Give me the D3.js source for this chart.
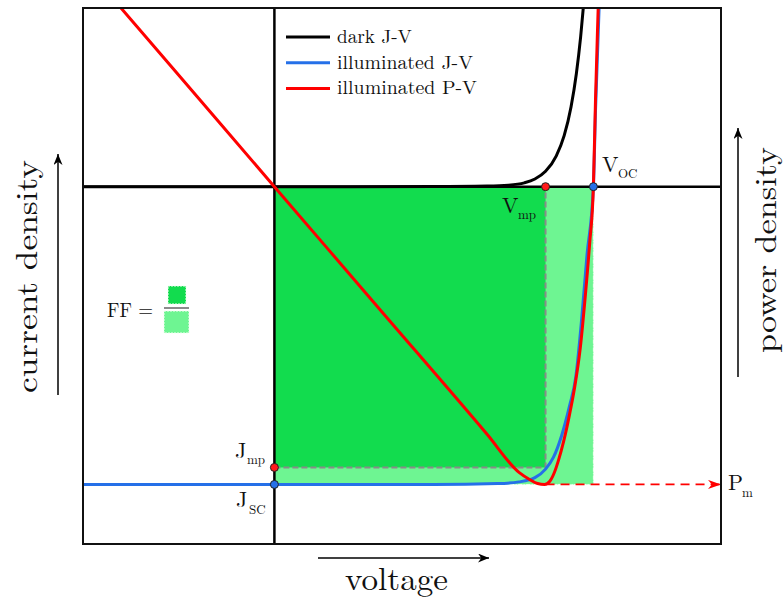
<!DOCTYPE html>
<html>
<head>
<meta charset="utf-8">
<script src="https://cdn.jsdelivr.net/npm/d3@7"></script>
<style>
  html, body { margin: 0; padding: 0; background: #fff; }
  svg { display: block; }
</style>
</head>
<body>
<svg id="chart" width="784" height="600"></svg>
<script>
// Dark J-V curve (voltage, current density)
const darkV = [-0.36, 0, 0.3, 0.4, 0.44, 0.47, 0.49, 0.51, 0.53, 0.545, 0.558, 0.568, 0.576, 0.583];
const darkJ = [0, 0, 0.02, 0.08, 0.18, 0.45, 0.9, 1.8, 3.6, 6.0, 9.4, 13.3, 17.6, 22.4];

// Illuminated J-V curve
const lightV = [-0.36, 0.3, 0.42, 0.46, 0.49, 0.51, 0.525, 0.54, 0.555, 0.567, 0.578, 0.588, 0.6, 0.604, 0.611, 0.614];
const lightJ = [-35, -35, -34.9, -34.7, -34.2, -33.2, -31.8, -29.3, -25.8, -22.3, -15.5, -8, 0, 9, 21.5, 26];

// Illuminated P-V curve
const powerV = [-0.36, -0.2, 0, 0.2, 0.4, 0.46, 0.48, 0.495, 0.508, 0.518, 0.526, 0.534, 0.544, 0.555, 0.565, 0.575, 0.585, 0.593, 0.6, 0.604, 0.609, 0.613];
const powerP = [12.6, 7.0, 0, -7.0, -14.0, -16.15, -16.55, -16.78, -16.83, -16.65, -16.2, -15.5, -14.4, -12.9, -11.3, -9.2, -6.1, -3.2, 0, 5, 10.1, 14];

// Characteristic points
const Voc = 0.6, Vmp = 0.51, Jsc = -35, Jmp = -33, Pm = -16.83;

const legendLabels = ["dark J-V", "illuminated J-V", "illuminated P-V"];
const legendColors = ["#000000", "#2570e8", "#ff0000"];

const FONT = "Latin Modern Roman";

const svg = d3.select("#chart");
const frame = {left: 83, right: 721, top: 8, bottom: 544};

const x = d3.scaleLinear().domain([-0.36, 0.84]).range([frame.left, frame.right]);
const yJ = d3.scaleLinear().domain([-42, 21]).range([frame.bottom, frame.top]);
const yP = d3.scaleLinear().domain([-20.2, 10.1]).range([frame.bottom, frame.top]);

const defs = svg.append("defs");
defs.append("clipPath").attr("id", "plot-clip")
  .append("rect")
  .attr("x", frame.left).attr("y", frame.top)
  .attr("width", frame.right - frame.left).attr("height", frame.bottom - frame.top);

function marker(id, color, len, half) {
  defs.append("marker")
    .attr("id", id)
    .attr("viewBox", `${-len} ${-half} ${len} ${half * 2}`)
    .attr("refX", 0).attr("refY", 0)
    .attr("markerWidth", len).attr("markerHeight", half * 2)
    .attr("markerUnits", "userSpaceOnUse")
    .attr("orient", "auto")
    .append("path")
    .attr("d", `M0,0 L${-len},${-half} L${-len * 0.7},0 L${-len},${half} Z`)
    .attr("fill", color);
}
marker("arrow-black", "#000", 11, 4.5);
marker("arrow-red", "#ff0000", 13, 4.5);

const plot = svg.append("g").attr("clip-path", "url(#plot-clip)");

// Maximum possible power rectangle (Voc x Jsc)
plot.append("rect")
  .attr("x", x(0)).attr("y", yJ(0))
  .attr("width", x(Voc) - x(0)).attr("height", yJ(Jsc) - yJ(0))
  .attr("fill", "#6ef592")
  .attr("stroke", "#f0fff0").attr("stroke-width", 1)
  .attr("stroke-dasharray", "4,1.5,1,1.5");

// Maximum power rectangle (Vmp x Jmp)
plot.append("rect")
  .attr("x", x(0)).attr("y", yJ(0))
  .attr("width", x(Vmp) - x(0)).attr("height", yJ(Jmp) - yJ(0))
  .attr("fill", "#12dc4e");

plot.append("path")
  .attr("d", `M${x(0)},${yJ(Jmp)} H${x(Vmp)} V${yJ(0)}`)
  .attr("fill", "none")
  .attr("stroke", "#8a8a8a").attr("stroke-width", 2)
  .attr("stroke-dasharray", "6,3");

// Axes through the origin
plot.append("line")
  .attr("x1", frame.left).attr("x2", frame.right)
  .attr("y1", yJ(0)).attr("y2", yJ(0))
  .attr("stroke", "#000").attr("stroke-width", 2.5);
plot.append("line")
  .attr("x1", x(0)).attr("x2", x(0))
  .attr("y1", frame.top).attr("y2", frame.bottom)
  .attr("stroke", "#000").attr("stroke-width", 2.5);

// Pm guide arrow
svg.append("line")
  .attr("x1", x(Vmp)).attr("x2", frame.right)
  .attr("y1", yP(Pm)).attr("y2", yP(Pm))
  .attr("stroke", "#ff0000").attr("stroke-width", 1.6)
  .attr("stroke-dasharray", "9,6")
  .attr("marker-end", "url(#arrow-red)");

// Curves
const lineJ = d3.line().x(d => x(d[0])).y(d => yJ(d[1])).curve(d3.curveMonotoneX);
const lineP = d3.line().x(d => x(d[0])).y(d => yP(d[1])).curve(d3.curveMonotoneX);

plot.append("path")
  .datum(d3.zip(darkV, darkJ))
  .attr("d", lineJ)
  .attr("fill", "none").attr("stroke", legendColors[0]).attr("stroke-width", 3);
plot.append("path")
  .datum(d3.zip(lightV, lightJ))
  .attr("d", lineJ)
  .attr("fill", "none").attr("stroke", legendColors[1]).attr("stroke-width", 3);
plot.append("path")
  .datum(d3.zip(powerV, powerP))
  .attr("d", lineP)
  .attr("fill", "none").attr("stroke", legendColors[2]).attr("stroke-width", 3);

// Marked points
const pts = [
  {v: Vmp, y: yJ(0), c: "#ff1a1a"},
  {v: Voc, y: yJ(0), c: "#2570e8"},
  {v: 0, y: yJ(Jmp), c: "#ff1a1a"},
  {v: 0, y: yJ(Jsc), c: "#2570e8"}
];
svg.selectAll("circle.pt").data(pts).join("circle")
  .attr("class", "pt")
  .attr("cx", d => x(d.v)).attr("cy", d => d.y).attr("r", 4)
  .attr("fill", d => d.c).attr("stroke", "#222").attr("stroke-width", 1);

// Frame
svg.append("rect")
  .attr("x", frame.left).attr("y", frame.top)
  .attr("width", frame.right - frame.left).attr("height", frame.bottom - frame.top)
  .attr("fill", "none").attr("stroke", "#111").attr("stroke-width", 2);

function addText(sel) {
  return sel.append("text").attr("font-family", FONT).attr("fill", "#111");
}

// Legend
const legend = svg.append("g");
const legendWidths = [75, 136, 140];
legendLabels.forEach((lab, i) => {
  const cy = 37 + i * 25.7;
  legend.append("line")
    .attr("x1", 286).attr("x2", 330).attr("y1", cy).attr("y2", cy)
    .attr("stroke", legendColors[i]).attr("stroke-width", 3);
  addText(legend)
    .attr("x", 337).attr("y", cy + 6)
    .attr("font-size", 19)
    .attr("textLength", legendWidths[i]).attr("lengthAdjust", "spacingAndGlyphs")
    .text(lab);
});

// Labels with subscripts
function subLabel(mainX, mainY, main, subX, subY, sub) {
  addText(svg).attr("x", mainX).attr("y", mainY).attr("font-size", 22).text(main);
  addText(svg).attr("x", subX).attr("y", subY).attr("font-size", 13).text(sub);
}
subLabel(602, 172, "V", 618, 178, "OC");
subLabel(502, 213, "V", 518, 219, "mp");
subLabel(235, 458, "J", 247, 464, "mp");
subLabel(236, 507, "J", 249, 514, "SC");
subLabel(728, 490, "P", 742, 497, "m");

// Fill factor symbol
addText(svg).attr("x", 107).attr("y", 317).attr("font-size", 21)
  .attr("textLength", 46).attr("lengthAdjust", "spacingAndGlyphs").text("FF =");
svg.append("rect").attr("x", 168).attr("y", 286).attr("width", 18).attr("height", 18)
  .attr("fill", "#12dc4e").attr("stroke", "#f0fff0").attr("stroke-width", 1)
  .attr("stroke-dasharray", "2,1");
svg.append("line").attr("x1", 164).attr("x2", 189).attr("y1", 308).attr("y2", 308)
  .attr("stroke", "#666").attr("stroke-width", 1.5);
svg.append("rect").attr("x", 164).attr("y", 311).attr("width", 25).attr("height", 22)
  .attr("fill", "#6ef592").attr("stroke", "#f0fff0").attr("stroke-width", 1)
  .attr("stroke-dasharray", "2,1");

// Axis titles with direction arrows
svg.append("line").attr("x1", 318).attr("x2", 489).attr("y1", 558).attr("y2", 558)
  .attr("stroke", "#000").attr("stroke-width", 1.5).attr("marker-end", "url(#arrow-black)");
addText(svg).attr("x", 396.5).attr("y", 590).attr("text-anchor", "middle")
  .attr("font-size", 32).attr("textLength", 103).attr("lengthAdjust", "spacingAndGlyphs")
  .text("voltage");

svg.append("line").attr("x1", 58).attr("x2", 58).attr("y1", 395).attr("y2", 154)
  .attr("stroke", "#000").attr("stroke-width", 1.5).attr("marker-end", "url(#arrow-black)");
addText(svg).attr("transform", "translate(37,276.5) rotate(-90)")
  .attr("text-anchor", "middle")
  .attr("font-size", 30).attr("textLength", 233).attr("lengthAdjust", "spacingAndGlyphs")
  .text("current density");

svg.append("line").attr("x1", 738).attr("x2", 738).attr("y1", 377).attr("y2", 128)
  .attr("stroke", "#000").attr("stroke-width", 1.5).attr("marker-end", "url(#arrow-black)");
addText(svg).attr("transform", "translate(776,250) rotate(-90)")
  .attr("text-anchor", "middle")
  .attr("font-size", 30).attr("textLength", 206).attr("lengthAdjust", "spacingAndGlyphs")
  .text("power density");
</script>
</body>
</html>
